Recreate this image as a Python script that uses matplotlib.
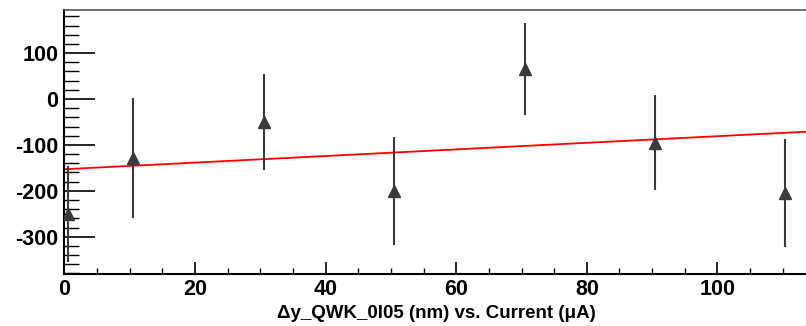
import matplotlib
matplotlib.use("Agg")
import matplotlib.pyplot as plt
import numpy as np
from matplotlib.ticker import MultipleLocator

plt.rcParams['font.family'] = ['Liberation Sans', 'DejaVu Sans']
plt.rcParams['axes.unicode_minus'] = False

current = [0.5, 10.5, 30.5, 50.5, 70.5, 90.5, 110.3]
dy = [-250, -128, -50, -200, 65, -95, -205]
dy_err = [105, 131, 105, 118, 100, 103, 118]
fit_intercept = -153.0
fit_slope = 0.72
xlabel = "\u0394y_QWK_0I05 (nm) vs. Current (\u03bcA)"

fig = plt.figure(figsize=(8.06, 3.26), dpi=100)
ax = fig.add_axes([64.3/806, 1-274.3/326, 1-64.3/806+0.002, (274.3-10)/326])
ax.set_xlim(0, 113.8)
ax.set_ylim(-381.9, 193.9)

dark = '#3a3a3a'
ax.errorbar(current, dy, yerr=dy_err, fmt='^', color=dark, ecolor=dark,
            elinewidth=1.5, markersize=8, capsize=0, zorder=3)
xf = np.array([0, 113.8])
ax.plot(xf, fit_intercept + fit_slope*xf, color='#ff0000', lw=1.3, zorder=2)

ax.xaxis.set_major_locator(MultipleLocator(20))
ax.xaxis.set_minor_locator(MultipleLocator(5))
ax.yaxis.set_major_locator(MultipleLocator(100))
ax.yaxis.set_minor_locator(MultipleLocator(20))
ax.tick_params(axis='x', which='major', direction='in', length=9, width=1.2, pad=3.5)
ax.tick_params(axis='x', which='minor', direction='in', length=4.5, width=1.0)
ax.tick_params(axis='y', which='major', direction='in', length=22, width=1.2, pad=4.3)
ax.tick_params(axis='y', which='minor', direction='in', length=11, width=1.0)
for lab in ax.get_xticklabels() + ax.get_yticklabels():
    lab.set_fontweight('bold')
    lab.set_fontsize(15.5)
ax.spines['right'].set_visible(False)
for s in ['left', 'bottom']:
    ax.spines[s].set_linewidth(1.5)
ax.spines['top'].set_linewidth(1.2)
ax.spines['top'].set_color('#555555')
ax.set_xlabel(xlabel, fontsize=13.5, fontweight='bold', va='baseline')
ax.xaxis.set_label_coords(0.5, -(318.3-274.3)/264.3)

fig.savefig('out.png', dpi=100)
